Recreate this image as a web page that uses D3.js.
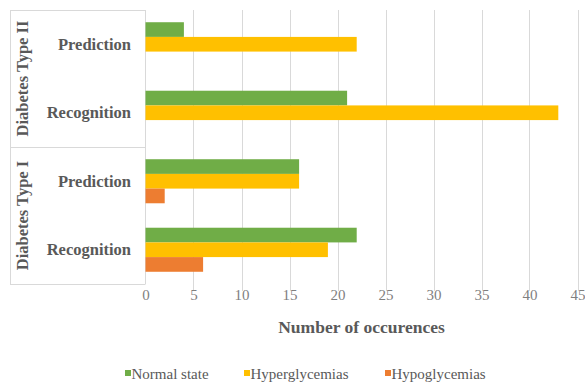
<!DOCTYPE html>
<html>
<head>
<meta charset="utf-8">
<script src="https://cdn.jsdelivr.net/npm/d3@7"></script>
<style>
  body { margin: 0; background: #fff; }
  svg text { font-family: "Times New Roman", "Liberation Serif", Times, "DejaVu Serif", serif; }
</style>
</head>
<body>
<svg width="585" height="383"></svg>
<script>
var groups = ['Diabetes Type II', 'Diabetes Type I'];
var tasks = ['Prediction', 'Recognition'];
var series = ['Normal state', 'Hyperglycemias', 'Hypoglycemias'];
var colors = ['#70AD47', '#FFC000', '#ED7D31'];

// values per series, rows in order: DT2 Prediction, DT2 Recognition, DT1 Prediction, DT1 Recognition
var normalState = [4, 21, 16, 22];
var hyperglycemias = [22, 43, 16, 19];
var hypoglycemias = [0, 0, 2, 6];
var xTicks = [0, 5, 10, 15, 20, 25, 30, 35, 40, 45];

var width = 585, height = 383;
var margin = {top: 10, bottom: 99, left: 145.5, right: 7.5};
var boxLeft = 10;

var rows = [];
groups.forEach(g => tasks.forEach(t => rows.push({group: g, task: t, key: g + '|' + t})));
rows.forEach((r, i) => {
  r.values = [normalState[i], hyperglycemias[i], hypoglycemias[i]];
});

var svg = d3.select('svg');

var xScale = d3.scaleLinear()
  .domain([0, 45])
  .range([margin.left, width - margin.right]);

var yScale = d3.scaleBand()
  .domain(rows.map(d => d.key))
  .range([margin.top, height - margin.bottom])
  .paddingInner(0.357)
  .paddingOuter(0.1785);

var innerScale = d3.scaleBand()
  .domain(series)
  .range([0, yScale.bandwidth()]);

var plotTop = margin.top, plotBottom = height - margin.bottom;

// gridlines
svg.append('g')
  .selectAll('line')
  .data(xTicks.filter(d => d > 0))
  .enter().append('line')
  .attr('x1', d => Math.round(xScale(d)) + 0.5)
  .attr('x2', d => Math.round(xScale(d)) + 0.5)
  .attr('y1', plotTop)
  .attr('y2', plotBottom + 7)
  .attr('stroke', '#d9d9d9')
  .attr('stroke-width', 1);

// category box
var box = svg.append('g').attr('stroke', '#d9d9d9').attr('stroke-width', 1).attr('fill', 'none');
box.append('line').attr('x1', boxLeft + 0.5).attr('x2', boxLeft + 0.5).attr('y1', plotTop).attr('y2', plotBottom);
box.append('line').attr('x1', margin.left).attr('x2', margin.left).attr('y1', plotTop).attr('y2', plotBottom);
[0, 2, 4].forEach(i => {
  var y = Math.round(plotTop + i * (plotBottom - plotTop) / 4) + 0.5;
  box.append('line').attr('x1', boxLeft).attr('x2', margin.left).attr('y1', y).attr('y2', y);
});

// bars
var rowG = svg.append('g')
  .selectAll('g')
  .data(rows)
  .enter().append('g')
  .attr('transform', d => 'translate(0,' + yScale(d.key) + ')');

rowG.selectAll('rect')
  .data(d => d.values.map((v, i) => ({series: series[i], value: v, color: colors[i]})))
  .enter().append('rect')
  .filter(d => d.value > 0)
  .attr('x', xScale(0))
  .attr('y', d => innerScale(d.series))
  .attr('width', d => xScale(d.value) - xScale(0))
  .attr('height', innerScale.bandwidth())
  .attr('fill', d => d.color);

// task labels
svg.append('g')
  .selectAll('text')
  .data(rows)
  .enter().append('text')
  .attr('x', 131)
  .attr('y', d => yScale(d.key) + yScale.bandwidth() / 2 + 5.5)
  .attr('text-anchor', 'end')
  .attr('font-size', '16.5px')
  .attr('font-weight', 'bold')
  .attr('fill', '#595959')
  .text(d => d.task);

// group labels
svg.append('g')
  .selectAll('text')
  .data(groups)
  .enter().append('text')
  .attr('transform', (d, i) => {
    var cy = plotTop + (i + 0.5) * (plotBottom - plotTop) / 2;
    return 'translate(28,' + cy + ') rotate(-90)';
  })
  .attr('text-anchor', 'middle')
  .attr('font-size', '16.5px')
  .attr('font-weight', 'bold')
  .attr('fill', '#595959')
  .text(d => d);

// x axis
var xAxis = d3.axisBottom(xScale)
  .tickValues(xTicks)
  .tickSize(0)
  .tickPadding(0);

var axisG = svg.append('g')
  .attr('transform', 'translate(0,' + plotBottom + ')')
  .call(xAxis);
axisG.select('.domain').remove();
axisG.selectAll('text')
  .attr('y', 16)
  .attr('dy', 0)
  .attr('font-size', '15px')
  .attr('fill', '#7f7f7f');

svg.append('text')
  .attr('x', (xScale(0) + xScale(45)) / 2)
  .attr('y', 333)
  .attr('text-anchor', 'middle')
  .attr('font-size', '17.5px')
  .attr('font-weight', 'bold')
  .attr('fill', '#595959')
  .text('Number of occurences');

// legend
var legendX = [125, 244, 385];
var legend = svg.append('g')
  .selectAll('g')
  .data(series)
  .enter().append('g')
  .attr('transform', (d, i) => 'translate(' + legendX[i] + ',379)');
legend.append('rect')
  .attr('x', 0).attr('y', -9)
  .attr('width', 6).attr('height', 6)
  .attr('fill', (d, i) => colors[i]);
legend.append('text')
  .attr('x', 6.5)
  .attr('font-size', '15px')
  .attr('fill', '#595959')
  .text(d => d);
</script>
</body>
</html>
